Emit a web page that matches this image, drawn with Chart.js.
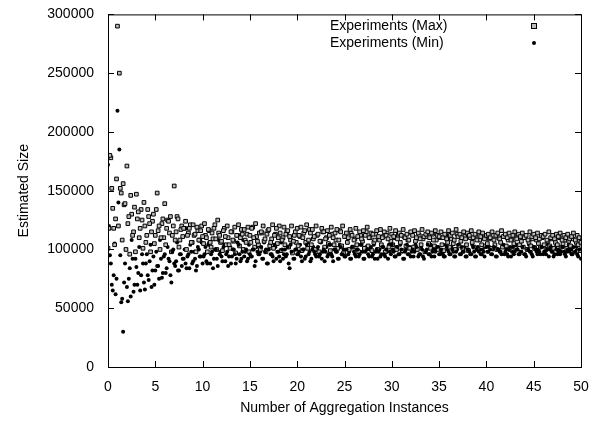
<!DOCTYPE html>
<html>
<head>
<meta charset="utf-8">
<script src="https://cdn.jsdelivr.net/npm/chart.js@4"></script>
<style>
  html, body { margin: 0; padding: 0; background: #fff; }
  #wrap { width: 598px; height: 421px; }
</style>
</head>
<body>
<div id="wrap"><canvas id="chart"></canvas></div>
<script>
// samples every 0.2 instances; second runs are offset by 0.1
var xStep = 0.2;

// values in thousands
var maxK = [
  101,180,152,118,126,290,
  250,148,156,139,171, 128,146,112,136,147, 132,118,125,140,106, 134,122,115,130,112,
  148,120,110,126,139, 118,124,128,112,154, 115,126,108,120,118, 124,112,118,106,121, 113,119,108,116,111,
  122,110,117,106,114, 118,109,125,112,107, 116,111,120,104,115, 108,119,112,121,110, 113,117,106,119,112,
  118,110,122,107,114, 115,120,109,113,117, 106,121,112,118,110, 114,108,119,113,116, 111,120,107,115,118,
  112,119,110,116,121, 108,114,117,111,120, 113,107,118,115,109, 116,112,119,110,114, 117,108,115,120,111,
  114,110,117,112,108, 118,111,115,109,116, 112,119,110,114,113, 108,116,111,117,110, 115,112,109,118,113,
  111,116,109,114,112, 117,110,113,108,115, 112,116,110,114,109, 117,111,113,115,110, 114,108,116,112,111,
  115,110,113,109,116, 112,114,108,117,111, 113,110,115,109,114, 112,116,110,113,108, 115,111,114,109,112,
  113,110,115,108,112, 114,109,116,111,113, 110,114,108,112,115, 109,113,111,114,110, 112,108,115,111,113,
  110,114,109,112,111, 113,108,115,110,112, 109,113,111,114,108, 112,110,113,109,111, 114,108,112,110,106
];
var maxK2 = [
  118,178,135,104,160,120,152,108,138,100, 122,96,130,115,98,126,110,134,101,120,
  112,128,98,124,105,134,116,100,122,110, 104,125,114,98,120,108,128,102,117,111,
  118,100,114,121,106,112,98,116,108,120,
  105,112,98,116,102,109,121,100,114,106, 99,118,104,110,101,115,107,97,112,103, 117,100,108,113,98,106,119,102,111,104, 100,114,107,98,116,103,109,101,113,105, 120,99,110,104,115,102,108,97,112,106,
  103,111,99,114,106,101,117,104,109,100, 112,98,107,115,102,110,105,99,113,104, 108,101,116,103,97,111,106,100,114,102, 109,104,98,112,107,101,115,103,110,99, 106,113,100,108,104,111,98,114,102,107,
  104,110,100,113,106,99,111,103,108,101, 114,102,107,100,112,104,109,98,111,105, 101,113,103,108,100,110,104,99,112,106, 102,109,105,100,113,103,107,101,111,104, 99,110,106,102,112,100,108,104,110,103,
  105,109,101,112,104,100,110,106,102,111, 103,108,100,109,105,101,112,104,107,102, 110,100,106,103,109,101,108,105,102,110, 104,100,107,103,109,101,106,104,110,102, 105,108,101,107,103,109,100,106,104,99
];
var minK = [
  172,95,70,78,62,218,
  185,55,30,88,68, 75,60,92,70,85, 80,65,96,72,88, 78,90,68,94,82,
  86,75,92,80,96, 84,92,78,98,88, 90,82,96,86,92, 88,94,84,98,90, 92,86,100,94,88,
  96,90,104,88,98, 92,100,86,96,94, 102,90,98,94,88, 100,96,92,104,90, 98,94,100,92,96,
  94,100,90,98,96, 102,92,98,88,100, 96,94,104,92,98, 90,100,96,94,102, 84,98,92,100,96,
  98,94,100,92,104, 96,90,100,98,94, 102,96,92,100,98, 94,104,96,90,100, 98,92,102,96,94,
  100,96,92,102,98, 94,100,96,104,92, 98,100,94,102,96, 92,100,98,94,102, 96,100,92,98,104,
  98,94,102,96,100, 92,98,104,96,94, 100,98,102,94,96, 100,92,98,104,96, 94,100,98,102,96,
  100,96,94,102,98, 96,100,94,98,104, 96,102,98,94,100, 98,96,102,94,100, 98,96,100,94,102,
  98,100,96,102,94, 100,98,96,104,98, 96,100,94,102,98, 100,96,98,102,96, 94,100,98,96,102,
  100,96,98,102,96, 98,100,94,102,98, 96,100,98,96,102, 98,94,100,98,96, 102,98,96,100,92
];
var minK2 = [
  120,88,65,105,75,140,95,58,72,100, 56,84,108,64,92,70,102,78,88,66,
  96,74,104,82,70,98,86,108,76,94, 80,102,90,72,100,86,106,82,96,92,
  100,84,96,104,88,98,82,102,94,106,
  94,102,88,106,96,84,100,92,108,98, 90,104,96,86,102,94,100,88,106,96, 92,108,98,90,104,94,100,86,102,96, 98,92,106,100,88,104,96,90,102,98, 94,106,92,100,96,88,104,98,92,100,
  96,104,90,100,94,106,98,92,102,96, 100,94,106,98,90,102,96,104,94,100, 98,92,104,96,100,94,106,98,92,102, 96,100,94,104,98,92,102,96,100,94, 104,98,92,100,96,102,94,98,104,96,
  100,94,102,96,104,98,92,100,96,102, 98,94,104,100,96,102,94,98,100,96, 104,98,94,100,102,96,98,94,104,100, 96,102,98,94,100,104,96,98,102,94, 100,96,104,98,94,102,100,96,98,102,
  98,102,96,100,104,94,100,98,102,96, 100,94,102,98,96,104,100,96,98,102, 96,100,104,98,94,102,98,100,96,102, 98,96,104,100,98,94,102,96,100,98, 102,96,98,104,100,96,98,102,94,100
];
var xTicks = [0, 5, 10, 15, 20, 25, 30, 35, 40, 45, 50];
var yTicks = [0, 50000, 100000, 150000, 200000, 250000, 300000];

function toPoints(arr, offset) {
  return arr.map(function (v, i) { return { x: +(offset + i * xStep).toFixed(1), y: v * 1000 }; });
}

var FONT = "'Liberation Sans', Arial, sans-serif";

// gnuplot style frame, inward ticks (mirrored) and legend
var framePlugin = {
  id: 'frame',
  afterDraw: function (chart) {
    var c = chart.ctx, a = chart.chartArea;
    var xs = chart.scales.x, ys = chart.scales.y;
    c.save();
    c.strokeStyle = '#000';
    c.lineWidth = 1;
    c.strokeRect(a.left + 0.5, a.top + 0.5, a.right - a.left, a.bottom - a.top);
    c.beginPath();
    xTicks.forEach(function (t) {
      var px = Math.round(xs.getPixelForValue(t)) + 0.5;
      c.moveTo(px, a.bottom); c.lineTo(px, a.bottom - 6);
      c.moveTo(px, a.top); c.lineTo(px, a.top + 6);
    });
    yTicks.forEach(function (t) {
      var py = Math.round(ys.getPixelForValue(t)) + 0.5;
      c.moveTo(a.left, py); c.lineTo(a.left + 6, py);
      c.moveTo(a.right, py); c.lineTo(a.right - 6, py);
    });
    c.stroke();

    // legend
    c.font = '14px ' + FONT;
    c.fillStyle = '#000';
    c.textAlign = 'left';
    c.textBaseline = 'middle';
    c.fillText('Experiments (Max)', 330, 26);
    c.fillText('Experiments (Min)', 330, 43);
    c.fillStyle = '#bbb';
    c.fillRect(532, 24, 4, 4);
    c.strokeRect(531.5, 23.5, 5, 5);
    c.fillStyle = '#000';
    c.beginPath();
    c.arc(534, 43, 2, 0, Math.PI * 2);
    c.fill();
    c.restore();
  }
};

var maxStyle = { pointStyle: 'rect', pointRadius: 2.6, backgroundColor: '#bbb', borderColor: '#000', borderWidth: 1 };
var minStyle = { pointStyle: 'circle', pointRadius: 2, backgroundColor: '#000', borderColor: '#000', borderWidth: 0 };

new Chart(document.getElementById('chart'), {
  type: 'scatter',
  data: {
    datasets: [
      Object.assign({ label: 'Experiments (Max)', data: toPoints(maxK, 0) }, maxStyle),
      Object.assign({ label: 'Experiments (Min)', data: toPoints(minK, 0) }, minStyle),
      Object.assign({ label: 'Experiments (Max) b', data: toPoints(maxK2, 0.1) }, maxStyle),
      Object.assign({ label: 'Experiments (Min) b', data: toPoints(minK2, 0.1) }, minStyle)
    ]
  },
  options: {
    responsive: true,
    maintainAspectRatio: false,
    animation: false,
    layout: { padding: { top: 13, right: 17, left: 12, bottom: 0 } },
    plugins: { legend: { display: false }, tooltip: { enabled: false } },
    scales: {
      x: {
        type: 'linear', min: 0, max: 50,
        afterBuildTicks: function (s) { s.ticks = xTicks.map(function (v) { return { value: v }; }); },
        afterFit: function (s) { s.height = 54; },
        grid: { display: false },
        border: { display: false },
        ticks: { color: '#000', font: { family: FONT, size: 14 }, padding: 4, maxRotation: 0,
                 callback: function (v) { return String(v); } },
        title: { display: true, text: 'Number of Aggregation Instances', color: '#000', font: { family: FONT, size: 14 }, padding: { top: 2 } }
      },
      y: {
        type: 'linear', min: 0, max: 300000,
        afterBuildTicks: function (s) { s.ticks = yTicks.map(function (v) { return { value: v }; }); },
        afterFit: function (s) { s.width = 96; },
        grid: { display: false },
        border: { display: false },
        ticks: { color: '#000', font: { family: FONT, size: 14 }, padding: 6,
                 callback: function (v) { return String(v); } },
        title: { display: true, text: 'Estimated Size', color: '#000', font: { family: FONT, size: 14 }, padding: { bottom: 6 } }
      }
    }
  },
  plugins: [framePlugin]
});
</script>
</body>
</html>
